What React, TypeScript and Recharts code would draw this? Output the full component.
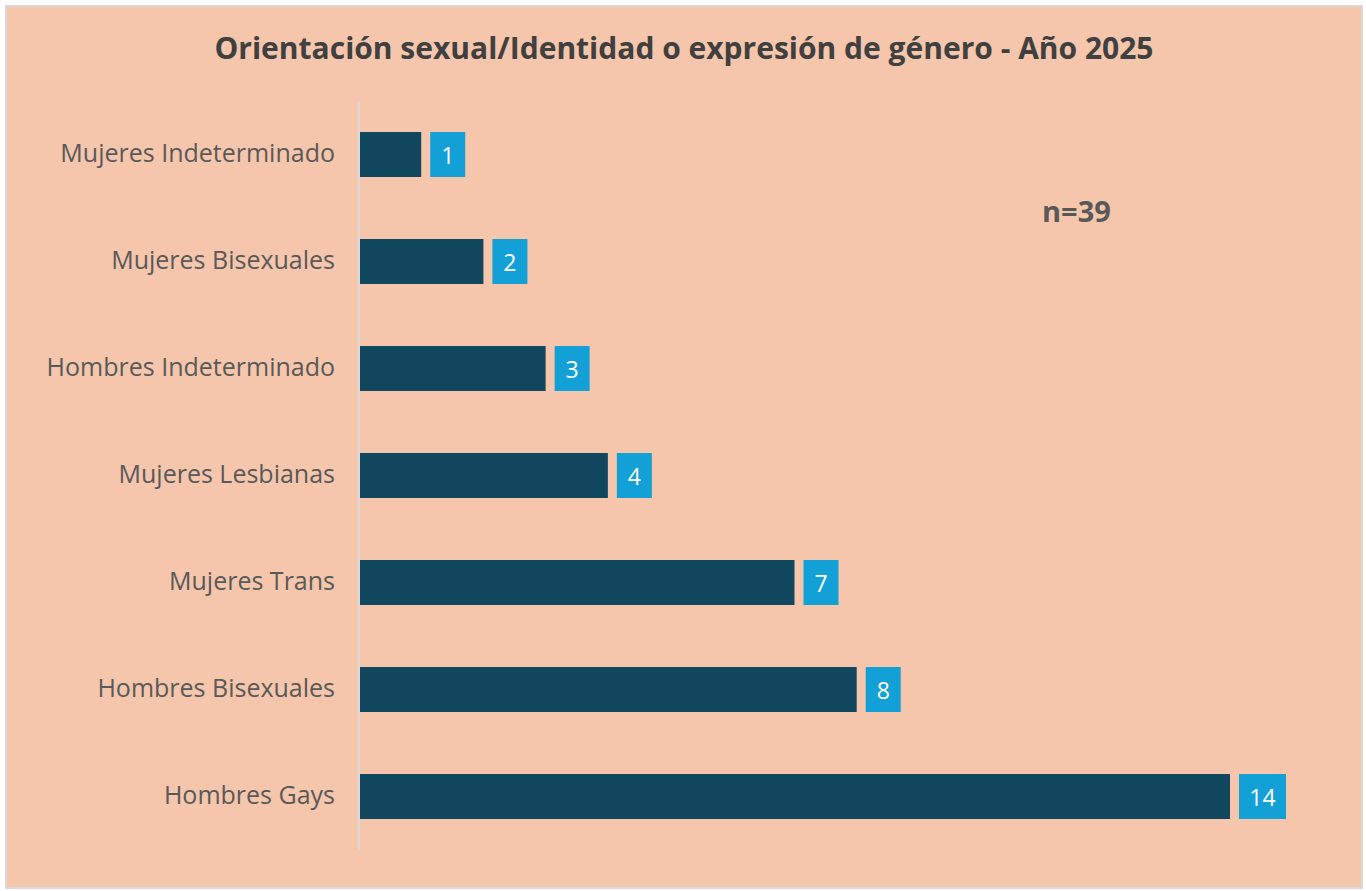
import { BarChart, Bar, XAxis, YAxis, LabelList } from 'recharts';

const categories = [
  'Mujeres Indeterminado',
  'Mujeres Bisexuales',
  'Hombres Indeterminado',
  'Mujeres Lesbianas',
  'Mujeres Trans',
  'Hombres Bisexuales',
  'Hombres Gays',
];
const counts = [1, 2, 3, 4, 7, 8, 14];
const sampleNote = 'n=39';
const chartTitle = 'Orientación sexual/Identidad o expresión de género - Año 2025';

const data = categories.map((name, i) => ({ name, value: counts[i] }));

const FONT = '"Open Sans", "Liberation Sans", sans-serif';

// blue box with white number, placed just right of the bar end
const ValueBox = (props: any) => {
  const { x, y, width, height, value } = props;
  const txt = String(value);
  const w = txt.length * 12 + 23;
  const bx = x + width + 9;
  return (
    <g>
      <rect x={bx} y={y} width={w} height={height} fill="#12A0D7" />
      <text
        x={bx + w / 2}
        y={y + height / 2}
        textAnchor="middle"
        dominantBaseline="central"
        fill="#ffffff"
        fontSize={23}
        fontFamily={FONT}
      >
        {txt}
      </text>
    </g>
  );
};

export default function App() {
  return (
    <div style={{ position: 'absolute', left: 0, top: 0, width: 1366, height: 891, background: '#fff' }}>
      <div
        style={{
          position: 'absolute',
          left: 5,
          top: 5,
          width: 1354,
          height: 880,
          background: '#F5C6AB',
          border: '2px solid #D9D9D9',
        }}
      />
      <div
        style={{
          position: 'absolute',
          left: 0,
          top: 27,
          width: 1368,
          textAlign: 'center',
          fontFamily: FONT,
          fontWeight: 700,
          fontSize: 30,
          color: '#404040',
          lineHeight: '42px',
        }}
      >
        {chartTitle}
      </div>
      <div
        style={{
          position: 'absolute',
          left: 1042,
          top: 191,
          fontFamily: FONT,
          fontWeight: 700,
          fontSize: 29,
          color: '#595959',
          lineHeight: '40px',
        }}
      >
        {sampleNote}
      </div>
      <div style={{ position: 'absolute', left: 0, top: 0 }}>
        <BarChart
          width={1366}
          height={891}
          data={data}
          layout="vertical"
          margin={{ top: 101, right: 136, bottom: 41, left: 0 }}
          barCategoryGap={31}
        >
          <XAxis type="number" domain={[0, 14]} hide />
          <YAxis
            type="category"
            dataKey="name"
            width={359}
            axisLine={{ stroke: '#D9D9D9', strokeWidth: 2 }}
            tickLine={false}
            tickMargin={18}
            tick={{ fill: '#595959', fontSize: 25, fontFamily: FONT, dy: -1 }}
          />
          <Bar dataKey="value" fill="#10475F" isAnimationActive={false}>
            <LabelList dataKey="value" content={<ValueBox />} />
          </Bar>
        </BarChart>
      </div>
    </div>
  );
}
